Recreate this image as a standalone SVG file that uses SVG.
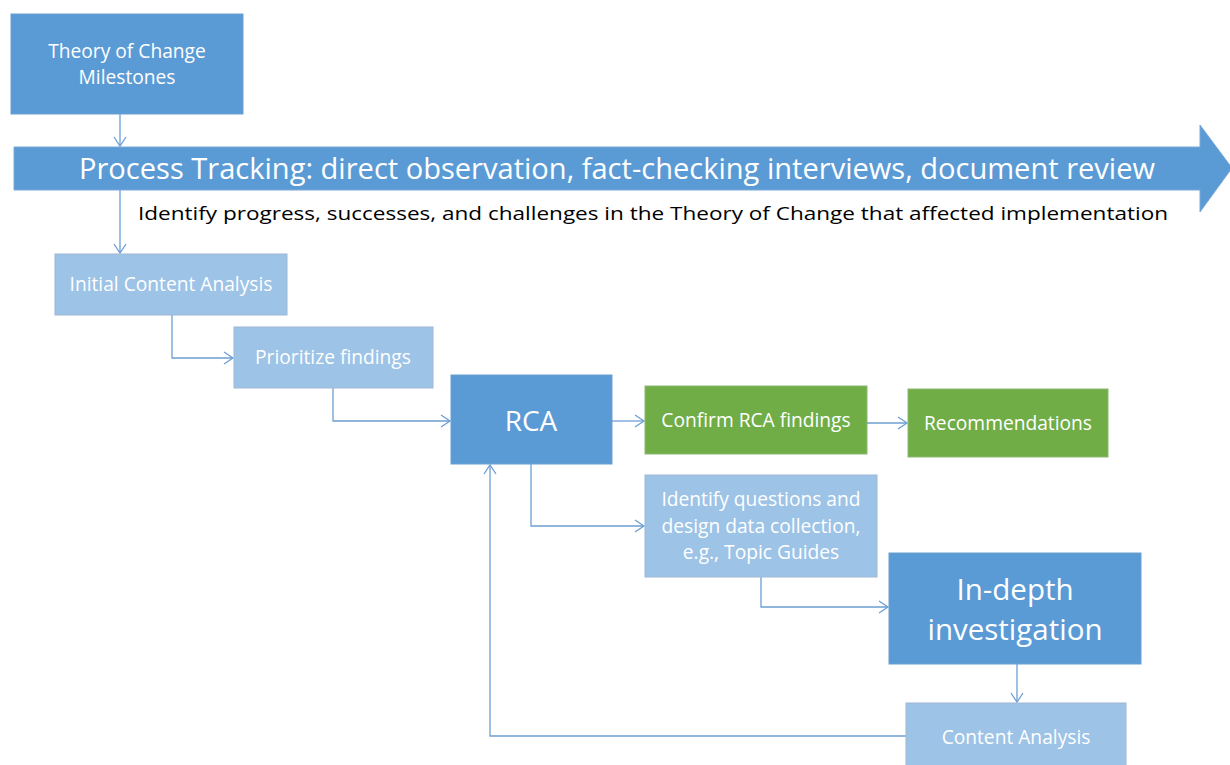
<svg xmlns="http://www.w3.org/2000/svg" width="1230" height="765" viewBox="0 0 1230 765">
<style>
.dk{fill:#5B9BD5;stroke:#6a9fd0;stroke-width:1}
.lt{fill:#9DC3E6;stroke:#9fb8d6;stroke-width:1}
.gr{fill:#70AD47;stroke:#8cb870;stroke-width:1}
text{font-family:"Open Sans","Liberation Sans",sans-serif;fill:#ffffff;text-anchor:middle}
.s{font-size:19.2px}
.b{font-size:29.5px}
.conn{fill:none;stroke:#6d9fd4;stroke-width:1.3}
</style>
<defs>
<marker id="ah" markerWidth="12" markerHeight="14" refX="10" refY="7" orient="auto" markerUnits="userSpaceOnUse">
<path d="M1,1 L10,7 L1,13" fill="none" stroke="#6d9fd4" stroke-width="1.3"/>
</marker>
</defs>
<rect width="1230" height="765" fill="#ffffff"/>
<g id="connectors">
<path class="conn" d="M120,114 V146" marker-end="url(#ah)"/>
<path class="conn" d="M120,190 V253" marker-end="url(#ah)"/>
<path class="conn" d="M172,315 V358 H233" marker-end="url(#ah)"/>
<path class="conn" d="M333,388 V421 H450" marker-end="url(#ah)"/>
<path class="conn" d="M612,421 H644" marker-end="url(#ah)"/>
<path class="conn" d="M867,423 H907" marker-end="url(#ah)"/>
<path class="conn" d="M531,464 V526 H644" marker-end="url(#ah)"/>
<path class="conn" d="M761,577 V607 H888" marker-end="url(#ah)"/>
<path class="conn" d="M1017,664 V702" marker-end="url(#ah)"/>
<path class="conn" d="M906,736 H490 V465" marker-end="url(#ah)"/>
</g>
<g id="theory">
<rect class="dk" x="11" y="14" width="232" height="100"/>
<text class="s" x="127" y="58">Theory of Change</text>
<text class="s" x="127" y="84">Milestones</text>
</g>
<g id="process">
<path d="M14,147 H1200 V125 L1232,168 L1200,212 V190 H14 Z" fill="#5B9BD5" stroke="#7aa8d8" stroke-width="1"/>
<text x="617" y="179" font-size="29" textLength="1076" lengthAdjust="spacingAndGlyphs">Process Tracking: direct observation, fact-checking interviews, document review</text>
</g>
<g id="subtitle">
<text x="653" y="220" font-size="19" style="fill:#000000" textLength="1030" lengthAdjust="spacingAndGlyphs">Identify progress, successes,  and challenges in the Theory of Change that affected implementation</text>
</g>
<g id="initial">
<rect class="lt" x="55" y="254" width="232" height="61"/>
<text class="s" x="171" y="291">Initial Content Analysis</text>
</g>
<g id="prioritize">
<rect class="lt" x="234" y="327" width="199" height="61"/>
<text class="s" x="333" y="364">Prioritize findings</text>
</g>
<g id="rca">
<rect class="dk" x="451" y="375" width="161" height="89"/>
<text x="531" y="431" font-size="28">RCA</text>
</g>
<g id="confirm">
<rect class="gr" x="645" y="386" width="222" height="68"/>
<text class="s" x="756" y="427">Confirm RCA findings</text>
</g>
<g id="recommendations">
<rect class="gr" x="908" y="389" width="200" height="68"/>
<text class="s" x="1008" y="430">Recommendations</text>
</g>
<g id="identify">
<rect class="lt" x="645" y="475" width="232" height="102"/>
<text class="s" x="761" y="506">Identify questions and</text>
<text class="s" x="761" y="533">design data collection,</text>
<text class="s" x="761" y="559">e.g., Topic Guides</text>
</g>
<g id="indepth">
<rect class="dk" x="889" y="553" width="252" height="111"/>
<text class="b" x="1015" y="600">In-depth</text>
<text class="b" x="1015" y="640">investigation</text>
</g>
<g id="content">
<rect class="lt" x="906" y="703" width="220" height="66"/>
<text class="s" x="1016" y="744">Content Analysis</text>
</g>
</svg>
